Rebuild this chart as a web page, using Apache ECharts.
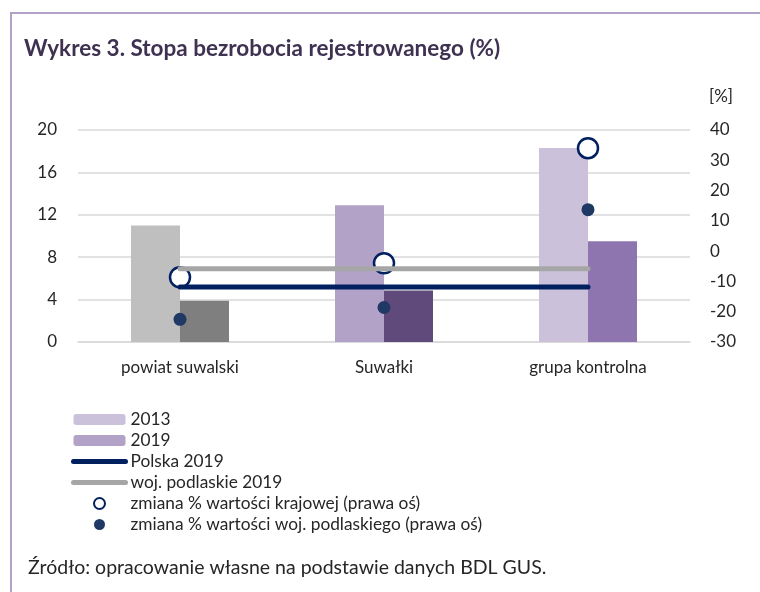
<!DOCTYPE html>
<html lang="pl">
<head>
  <meta charset="UTF-8">
  <title>Stopa bezrobocia rejestrowanego</title>
  <script src="https://cdn.jsdelivr.net/npm/echarts@6/dist/echarts.min.js"></script>
  <style>
    html, body { margin: 0; padding: 0; background: #fff; }
    #main { width: 760px; height: 592px; }
  </style>
</head>
<body>
<div id="main"></div>
<script>
  // dane
  var categories = ['powiat suwalski', 'Suwałki', 'grupa kontrolna'];
  var rate2013 = [11.0, 12.9, 18.3];
  var rate2019 = [3.9, 4.85, 9.5];
  var polska2019 = [5.2, 5.2, 5.2];
  var podlaskie2019 = [6.9, 6.9, 6.9];
  var changeNational = [-8.6, -4.0, 34.0];   // prawa oś
  var changeRegional = [-22.5, -18.6, 13.7]; // prawa oś

  // kolory słupków w poszczególnych kategoriach
  var colors2013 = ['#bfbfbf', '#b3a2c7', '#ccc1da'];
  var colors2019 = ['#7f7f7f', '#604a7b', '#8e75b0'];

  var FONT = 'Lato';
  var TXT = '#262626';

  function colored(values, cols) {
    return values.map(function (v, i) {
      return { value: v, itemStyle: { color: cols[i] } };
    });
  }

  // pozycja legendy dla serii liniowej: gruba linia bez znacznika
  function lineLegend(name, color) {
    return {
      name: name,
      itemStyle: { opacity: 0 },
      lineStyle: { color: color, width: 5, cap: 'round' }
    };
  }

  var myChart = echarts.init(document.getElementById('main'));
  myChart.setOption({
    animation: false,
    textStyle: { fontFamily: FONT },
    title: [{
      text: 'Wykres 3. Stopa bezrobocia rejestrowanego (%)',
      left: 19,
      top: 32,
      textStyle: { fontFamily: FONT, fontSize: 22.5, fontWeight: 'bold', color: '#3f3151' }
    }, {
      text: 'Źródło: opracowanie własne na podstawie danych BDL GUS.',
      left: 23,
      top: 553,
      textStyle: { fontFamily: FONT, fontSize: 19.5, fontWeight: 'normal', color: TXT }
    }],
    graphic: [{
      type: 'rect',
      shape: { x: 11, y: 13, width: 780, height: 620 },
      style: { fill: null, stroke: '#b3a2c7', lineWidth: 2 },
      silent: true
    }],
    legend: {
      orient: 'vertical',
      left: 71,
      top: 411,
      padding: 0,
      itemWidth: 52,
      itemHeight: 11,
      itemGap: 4,
      textStyle: { fontFamily: FONT, fontSize: 17.3, color: TXT, lineHeight: 17 },
      data: ['2013', '2019',
        lineLegend('Polska 2019', '#002060'),
        lineLegend('woj. podlaskie 2019', '#a6a6a6'),
        'zmiana % wartości krajowej (prawa oś)',
        'zmiana % wartości woj. podlaskiego (prawa oś)']
    },
    grid: { left: 78, right: 70, top: 130, bottom: 250 },
    xAxis: {
      type: 'category',
      data: categories,
      axisLine: { lineStyle: { color: '#d9d9d9', width: 1.5 } },
      axisTick: { show: false },
      axisLabel: { fontFamily: FONT, fontSize: 17, color: TXT, margin: 17 }
    },
    yAxis: [{
      type: 'value',
      min: 0,
      max: 20,
      interval: 4,
      axisLine: { show: false },
      axisTick: { show: false },
      axisLabel: { fontFamily: FONT, fontSize: 17, color: TXT, margin: 21 },
      splitLine: { lineStyle: { color: '#d9d9d9', width: 1.5 } }
    }, {
      type: 'value',
      position: 'right',
      min: -30,
      max: 40,
      interval: 10,
      name: '[%]',
      nameLocation: 'end',
      nameGap: 25,
      nameTextStyle: { fontFamily: FONT, fontSize: 17, color: TXT, padding: [0, 0, 0, 62] },
      axisLine: { show: false },
      axisTick: { show: false },
      axisLabel: { fontFamily: FONT, fontSize: 17, color: TXT, margin: 20 },
      splitLine: { show: false }
    }],
    series: [{
      name: '2013',
      type: 'bar',
      barWidth: 49,
      barGap: '0%',
      itemStyle: { color: '#ccc1da' },
      data: colored(rate2013, colors2013)
    }, {
      name: '2019',
      type: 'bar',
      barWidth: 49,
      barGap: '0%',
      itemStyle: { color: '#b3a2c7' },
      data: colored(rate2019, colors2019)
    }, {
      name: 'Polska 2019',
      type: 'line',
      symbol: 'none',
      color: '#002060',
      lineStyle: { color: '#002060', width: 5, cap: 'round' },
      data: polska2019
    }, {
      name: 'woj. podlaskie 2019',
      type: 'line',
      symbol: 'none',
      color: '#a6a6a6',
      lineStyle: { color: '#a6a6a6', width: 5, cap: 'round' },
      data: podlaskie2019
    }, {
      name: 'zmiana % wartości krajowej (prawa oś)',
      type: 'scatter',
      yAxisIndex: 1,
      symbolSize: 20,
      itemStyle: { color: '#ffffff', borderColor: '#002060', borderWidth: 2.5, opacity: 1 },
      data: changeNational
    }, {
      name: 'zmiana % wartości woj. podlaskiego (prawa oś)',
      type: 'scatter',
      yAxisIndex: 1,
      symbolSize: 13,
      itemStyle: { color: '#1f3864', opacity: 1 },
      data: changeRegional
    }]
  });
</script>
</body>
</html>
